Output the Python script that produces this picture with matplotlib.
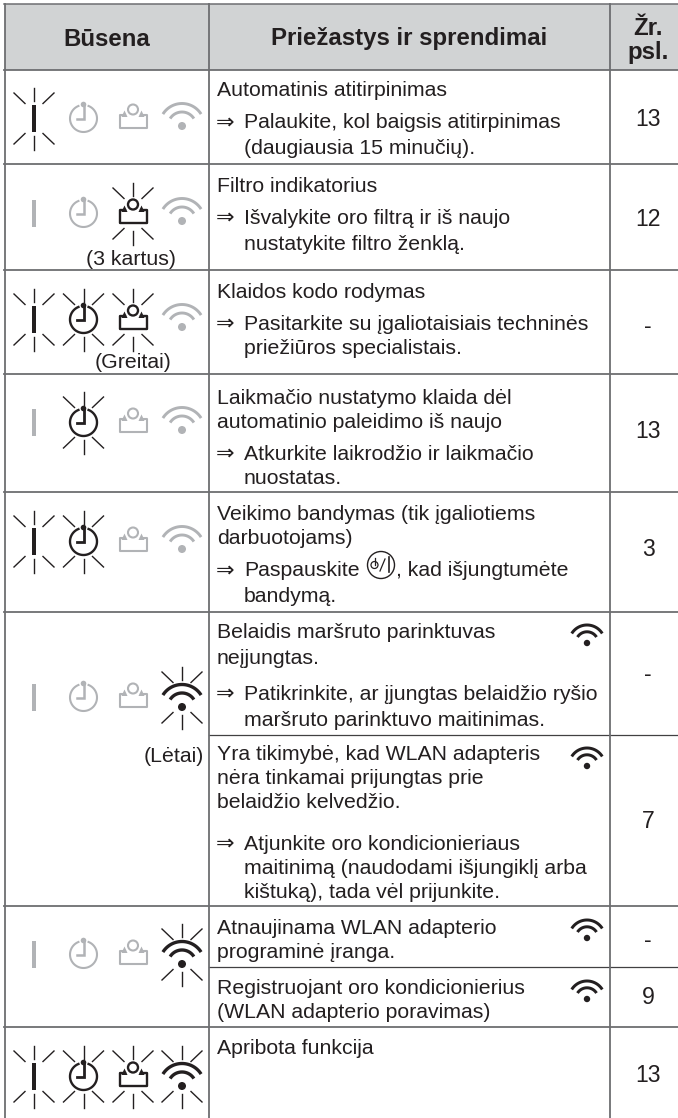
import numpy as np
import matplotlib
matplotlib.use('Agg')
import matplotlib.pyplot as plt
from matplotlib.patches import Circle, Polygon, Rectangle

plt.rcParams['font.family'] = ['Liberation Sans', 'DejaVu Sans']

# Table content
headers = ['Būsena', 'Priežastys ir sprendimai', 'Žr.\npsl.']
# which of bar / clock / filter / wifi blink in each state row
blink_bar = [1, 0, 1, 0, 1, 0, 0, 1]
blink_clock = [0, 0, 1, 1, 1, 0, 0, 1]
blink_filter = [0, 1, 1, 0, 0, 0, 0, 1]
blink_wifi = [0, 0, 0, 0, 0, 1, 1, 1]
notes = ['(3 kartus)', '(Greitai)', '(Lėtai)']
pages = ['13', '12', '-', '13', '3', '-', '7', '-', '9', '13']

# plain description lines and the "=>" lines next to them
cause_lines = ['Automatinis atitirpinimas', 'Filtro indikatorius', 'Klaidos kodo rodymas',
               'Laikmačio nustatymo klaida dėl', 'automatinio paleidimo iš naujo',
               'Veikimo bandymas (tik įgaliotiems', 'darbuotojams)',
               'Belaidis maršruto parinktuvas', 'neįjungtas.',
               'Yra tikimybė, kad WLAN adapteris', 'nėra tinkamai prijungtas prie', 'belaidžio kelvedžio.',
               'Atnaujinama WLAN adapterio', 'programinė įranga.',
               'Registruojant oro kondicionierius', '(WLAN adapterio poravimas)',
               'Apribota funkcija']
fix_lines = ['Palaukite, kol baigsis atitirpinimas', '(daugiausia 15 minučių).',
             'Išvalykite oro filtrą ir iš naujo', 'nustatykite filtro ženklą.',
             'Pasitarkite su įgaliotaisiais techninės', 'priežiūros specialistais.',
             'Atkurkite laikrodžio ir laikmačio', 'nuostatas.',
             'Paspauskite', 'bandymą.',
             'Patikrinkite, ar įjungtas belaidžio ryšio', 'maršruto parinktuvo maitinimas.',
             'Atjunkite oro kondicionieriaus', 'maitinimą (naudodami išjungiklį arba', 'kištuką), tada vėl prijunkite.']

# Layout in reference pixels
cause_y = [96.5, 191.5, 298.5, 403.5, 428.5, 519.5, 543.5, 638.5, 663.5, 759.5, 784.5, 808.5, 934.5, 958.5, 994.5, 1018.5, 1054.5]
fix_y = [128.5, 154.5, 223.5, 249.5, 329.5, 354.5, 459.5, 484.5, 576.5, 601.5, 699.5, 725.5, 849.5, 874.5, 898.5]
fix_arrow = [1, 0, 1, 0, 1, 0, 1, 0, 1, 0, 1, 0, 1, 0, 0]
state_y = [118.5, 213.5, 319.5, 422.5, 541.5, 697.5, 954.5, 1076.5]
note_x = [130.5, 133, 174]
note_y = [265, 368, 762]
page_y = [120, 220, 327, 432, 550, 675, 822, 941, 998, 1076]
row_lines = [164, 270, 374, 492, 612, 906, 1027]
sub_lines = [735, 967]
small_wifi_y = [643, 766, 938, 999]

DARK = '#231f20'
GREY = '#b1b3b6'
LINE = '#6d6e71'
BODY = 15.35
HEAD = 17.3

fig = plt.figure(figsize=(6.78, 11.18), dpi=100)
ax = fig.add_axes([0, 0, 1, 1])
ax.set_xlim(0, 678)
ax.set_ylim(1118, 0)
ax.axis('off')


def rays(cx, cy):
    for a, b in [(-1, -1), (1, -1), (-1, 1), (1, 1)]:
        ax.plot([cx + a * 9, cx + a * 20], [cy + b * 15, cy + b * 25.5], color=DARK, lw=1.0)
    for b in [-1, 1]:
        ax.plot([cx, cx], [cy + b * 17.5, cy + b * 31], color=DARK, lw=1.0)


def draw_bar(cx, cy, on):
    ax.add_patch(Rectangle((cx - 2, cy - 13.5), 4, 27, color=DARK if on else GREY, lw=0))
    if on:
        rays(cx, cy)


def draw_clock(cx, cy, on):
    c = DARK if on else GREY
    lw = 1.7 if on else 1.5
    t = np.radians(np.linspace(-68, 248, 80))
    ax.plot(cx + 13.5 * np.cos(t), cy + 13.5 * np.sin(t), color=c, lw=lw)
    ax.plot([cx - 7, cx, cx], [cy + 0.5, cy + 0.5, cy - 13], color=c, lw=lw + 0.3, solid_joinstyle='miter')
    ax.add_patch(Circle((cx, cy - 14), 2.8, color=c, lw=0))
    if on:
        rays(cx, cy)


def draw_filter(cx, cy, on):
    c = DARK if on else GREY
    lw = 1.7 if on else 1.5
    ax.add_patch(Circle((cx, cy - 9), 5, fill=False, ec=c, lw=lw))
    ax.plot([cx - 8, cx - 13.5, cx - 13.5, cx + 13.5, cx + 13.5, cx + 8],
            [cy - 3.5, cy - 3.5, cy + 9.5, cy + 9.5, cy - 3.5, cy - 3.5],
            color=c, lw=lw, solid_joinstyle='round')
    for s in [-1, 1]:
        ax.add_patch(Polygon([(cx + s * 5.5, cy - 1.5), (cx + s * 11.5, cy - 1.5), (cx + s * 8.5, cy - 8)],
                             color=c, lw=0))
    if on:
        rays(cx, cy)


def draw_wifi(cx, dot_y, on, scale=1.0):
    c = DARK if on else GREY
    for r in [22.5, 14]:
        t = np.radians(np.linspace(-58, 58, 40))
        ax.plot(cx + r * scale * np.sin(t), dot_y - r * scale * np.cos(t), color=c,
                lw=(2.4 if on else 2.1) * scale ** 0.5, solid_capstyle='butt')
    ax.add_patch(Circle((cx, dot_y), 4 * scale, color=c, lw=0))


# header and grid
ax.add_patch(Rectangle((5, 4), 673, 66, color='#d1d3d4', lw=0, zorder=0))
ax.plot([4, 678], [4, 4], color=LINE, lw=1.1)
ax.plot([4, 678], [70, 70], color=LINE, lw=1.3)
for y in row_lines:
    ax.plot([4, 678], [y, y], color=LINE, lw=1.3)
for y in sub_lines:
    ax.plot([209, 678], [y, y], color='#414042', lw=0.9)
for x in [5, 209, 610]:
    ax.plot([x, x], [4, 1118], color=LINE, lw=1.3)

# header text
ax.text(107, 45.5, headers[0], ha='center', va='baseline', fontsize=HEAD, fontweight='bold', color=DARK)
ax.text(409.5, 45.5, headers[1], ha='center', va='baseline', fontsize=HEAD, fontweight='bold', color=DARK)
ax.text(648, 40.5, headers[2], ha='center', va='center', fontsize=HEAD, fontweight='bold', color=DARK,
        linespacing=1.03)

# status icons
for i, cy in enumerate(state_y):
    draw_bar(34, cy, blink_bar[i])
    draw_clock(83.5, cy, blink_clock[i])
    draw_filter(133, cy, blink_filter[i])
    draw_wifi(182, cy + (9.5 if blink_wifi[i] else 7.5), blink_wifi[i])
    if blink_wifi[i]:
        rays(182, cy)

for label, x, y in zip(notes, note_x, note_y):
    ax.text(x, y, label, ha='center', va='baseline', fontsize=BODY, color=DARK)

# cause text
for label, y in zip(cause_lines, cause_y):
    ax.text(217, y, label, ha='left', va='baseline', fontsize=BODY, color=DARK)
for label, y, arrow in zip(fix_lines, fix_y, fix_arrow):
    if arrow:
        ax.text(216, y, '⇒', ha='left', va='baseline', fontsize=16, color=DARK, family='DejaVu Sans')
    ax.text(244, y, label, ha='left', va='baseline', fontsize=BODY, color=DARK)

# power button inside the text line of the trial run row
ax.add_patch(Circle((381, 565), 13.5, fill=False, ec=DARK, lw=1))
ax.add_patch(Circle((374.5, 565), 3.5, fill=False, ec=DARK, lw=0.9))
ax.plot([374.5, 374.5], [558, 565], color=DARK, lw=0.9)
ax.plot([380, 385], [571, 559], color=DARK, lw=0.9)
ax.plot([389, 389], [557, 572], color=DARK, lw=1.2)
ax.text(396, 576.5, ', kad išjungtumėte', ha='left', va='baseline', fontsize=BODY, color=DARK)

for y in small_wifi_y:
    draw_wifi(587, y, True, scale=0.8)

# page references
for label, y in zip(pages, page_y):
    ax.text(648, y, label, ha='center', va='center', fontsize=16.6, color=DARK)

fig.savefig('out.png', dpi=100)
